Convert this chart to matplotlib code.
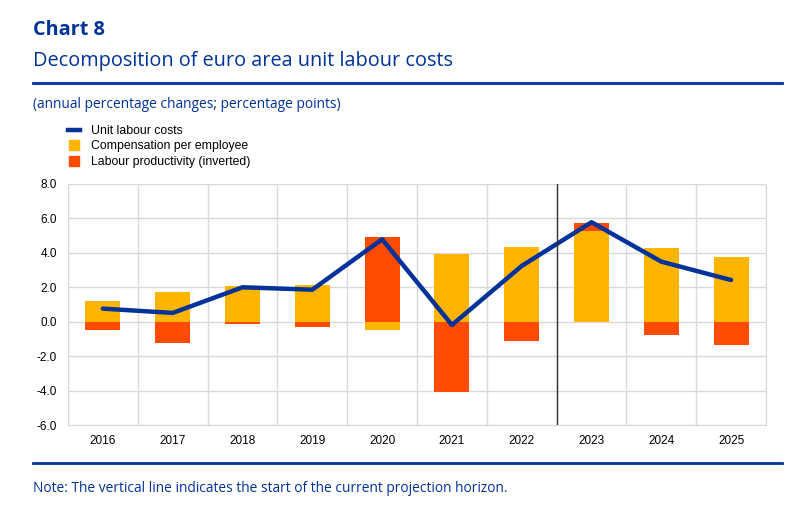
import numpy as np
import matplotlib.pyplot as plt
from matplotlib.lines import Line2D

BLUE = '#003299'
YELLOW = '#FFB400'
ORANGE = '#FF4B00'
GRID = '#d9d9d9'

years = ['2016', '2017', '2018', '2019', '2020', '2021', '2022', '2023', '2024', '2025']
ulc = [0.76, 0.51, 2.0, 1.86, 4.79, -0.19, 3.24, 5.78, 3.49, 2.42]
comp = [1.18, 1.71, 2.09, 2.13, -0.5, 3.93, 4.32, 5.27, 4.27, 3.78]
prod = [-0.46, -1.22, -0.13, -0.31, 4.9, -4.09, -1.1, 0.45, -0.8, -1.35]
yticks = [-6.0, -4.0, -2.0, 0.0, 2.0, 4.0, 6.0, 8.0]

fig = plt.figure(figsize=(8.12, 5.12), dpi=100)
ax = fig.add_axes([68 / 812, 1 - 425 / 512, 698 / 812, 241 / 512])

x = np.arange(len(years))
pos = np.zeros(len(years))
neg = np.zeros(len(years))
# stack positives upward and negatives downward
for vals, col in [(comp, YELLOW), (prod, ORANGE)]:
    v = np.array(vals)
    bottom = np.where(v >= 0, pos, neg)
    ax.bar(x, v, 0.5, bottom=bottom, color=col, zorder=2)
    pos += np.clip(v, 0, None)
    neg += np.clip(v, None, 0)

ax.plot(x, ulc, color=BLUE, lw=3.2, zorder=3, solid_capstyle='round')

# start of projection horizon
ax.axvline(6.5, color='#333333', lw=1, zorder=4)

ax.set_xlim(-0.5, len(years) - 0.5)
ax.set_ylim(-6, 8)
ax.set_yticks(yticks)
ax.set_yticklabels([f'{t:.1f}' for t in yticks])
ax.set_xticks(x)
ax.set_xticklabels(years)
ax.set_xticks(np.arange(-0.5, len(years), 1), minor=True)
ax.grid(True, which='minor', axis='x', color=GRID, lw=1, zorder=0)
ax.grid(True, which='major', axis='y', color=GRID, lw=1, zorder=0)
ax.tick_params(which='both', length=0, labelsize=8.5, colors='#000000')
ax.tick_params(axis='y', pad=8)
ax.tick_params(axis='x', pad=7)
for lab in ax.get_xticklabels() + ax.get_yticklabels():
    lab.set_fontfamily('Liberation Sans')
for s in ax.spines.values():
    s.set_color(GRID)

# header and footer
fig.text(33 / 812, 1 - 30 / 512, 'Chart 8', fontsize=14.3, fontweight='bold',
         color=BLUE, family='Open Sans', va='center')
fig.text(33 / 812, 1 - 61 / 512, 'Decomposition of euro area unit labour costs',
         fontsize=14.3, color=BLUE, family='Open Sans', va='center')
fig.add_artist(Line2D([33 / 812, 782 / 812], [1 - 83 / 512] * 2, color=BLUE, lw=2))
fig.text(33 / 812, 1 - 105 / 512, '(annual percentage changes; percentage points)',
         fontsize=9.9, color=BLUE, family='Open Sans', va='center')
fig.add_artist(Line2D([33 / 812, 782 / 812], [1 - 463 / 512] * 2, color=BLUE, lw=2))
fig.text(33 / 812, 1 - 489 / 512,
         'Note: The vertical line indicates the start of the current projection horizon.',
         fontsize=9.95, color=BLUE, family='Open Sans', va='center')

handles = [Line2D([], [], color=BLUE, lw=3.2),
           Line2D([], [], color=YELLOW, marker='s', ls='', markersize=6.5),
           Line2D([], [], color=ORANGE, marker='s', ls='', markersize=6.5)]
labels = ['Unit labour costs', 'Compensation per employee', 'Labour productivity (inverted)']
fig.legend(handles, labels, loc='upper left', bbox_to_anchor=(68 / 812, 1 - 125 / 512),
           frameon=False, handlelength=1.0, handletextpad=0.9,
           labelspacing=0.28, borderpad=0, borderaxespad=0,
           prop={'family': 'Liberation Sans', 'size': 8.8})

fig.savefig('out.png', dpi=100)
